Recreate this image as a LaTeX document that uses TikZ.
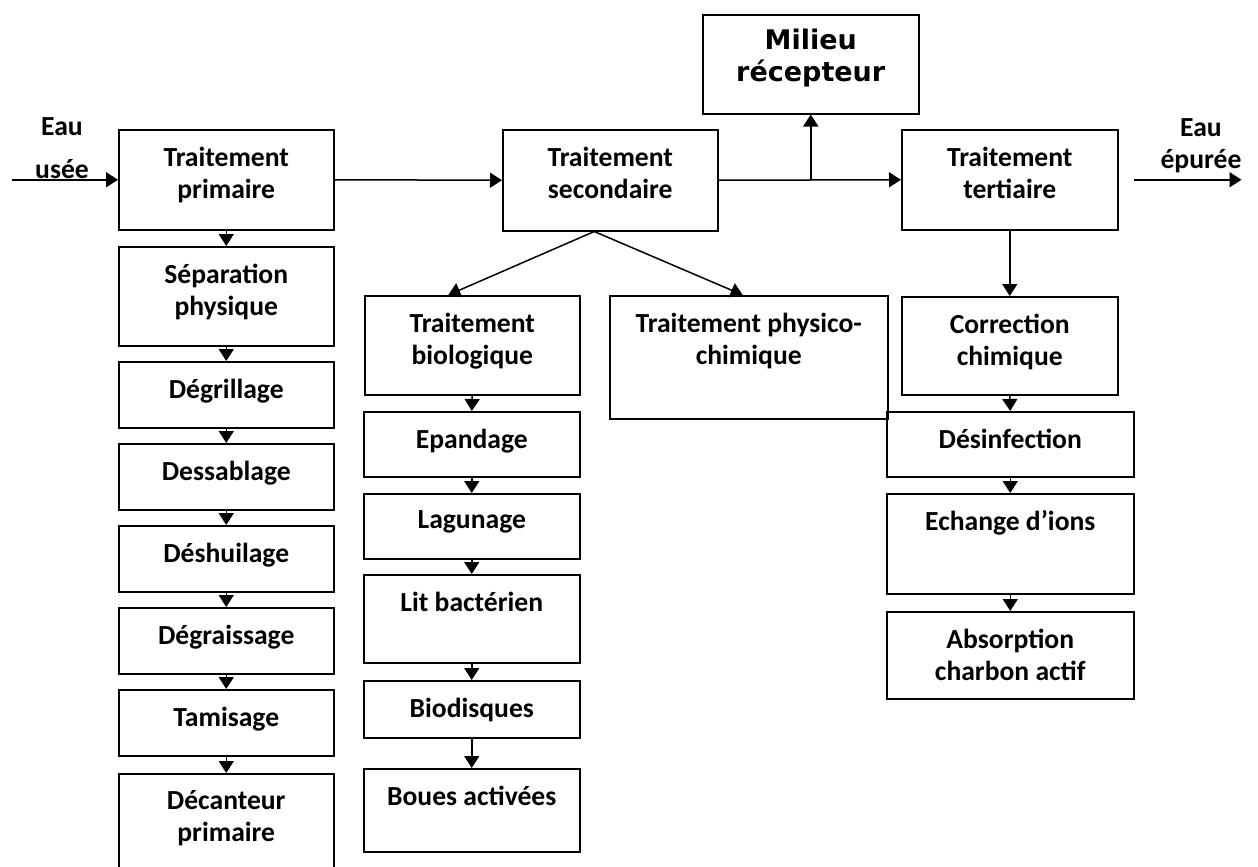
\documentclass[tikz,border=0pt]{standalone}
\usepackage{fontspec}
\newfontfamily\calibri{Carlito}
\newfontfamily\verdana{DejaVu Sans}
\usetikzlibrary{arrows.meta}

\begin{document}
\begin{tikzpicture}[
	x=0.5pt, y=-0.5pt,
	line width=0.75pt,
	>={Triangle[width=7.5pt,length=6pt]},
	box/.style 2 args={draw,anchor=north west,inner sep=0pt,minimum width=#1,minimum height=#2},
	lbl/.style={font=\calibri\bfseries\fontsize{13.8}{16}\selectfont,align=center,inner sep=0pt,anchor=north,yshift=-8.5pt},
	big/.style={font=\verdana\bfseries\fontsize{13.5}{16}\selectfont,align=center,inner sep=0pt,anchor=north,yshift=-7pt},
	side/.style={font=\calibri\bfseries\fontsize{13.8}{16}\selectfont,align=center,inner sep=0pt,anchor=north}
	]
	\clip (0,0) rectangle (1258,867);
	% main line
	\node[box={107.5pt}{50pt},label={[lbl]north:Traitement\\primaire}] (prim) at (118,129) {};
	\node[box={107.5pt}{50.5pt},label={[lbl]north:Traitement\\secondaire}] (sec) at (502,129) {};
	\node[box={108pt}{50pt},label={[lbl]north:Traitement\\tertiaire}] (tert) at (901,129) {};
	\node[box={108pt}{49.5pt},label={[big]north:Milieu\\récepteur}] (mil) at (702,14) {};
	\node[side] (usee) at (62,117) {Eau\\[5.5pt]usée};
	\node[side] (epur) at (1201,118) {Eau\\épurée};
	\coordinate (in0) at ([xshift=-53pt]prim.west);
	\coordinate (out0) at ([xshift=7.5pt]tert.east);
	\coordinate (out1) at ([xshift=61.5pt]tert.east);
	\coordinate (branch) at (sec.east -| mil.south);
	\draw[->] (in0) -- (prim.west);
	\draw[->] (prim.east) -- (sec.west);
	\draw[->] (sec.east) -- (tert.west);
	\draw[->] (branch) -- (mil.south);
	\draw[->] (out0) -- (out1);
	% primaire
	\node[box={107.5pt}{49.5pt},label={[lbl]north:Séparation\\physique}] (sep) at (118,246) {};
	\node[box={107.5pt}{33pt},label={[lbl]north:Dégrillage}] (degr) at (118,361) {};
	\node[box={107.5pt}{33pt},label={[lbl]north:Dessablage}] (dess) at (118,443) {};
	\node[box={107.5pt}{33pt},label={[lbl]north:Déshuilage}] (desh) at (118,525) {};
	\node[box={107.5pt}{33pt},label={[lbl]north:Dégraissage}] (degs) at (118,607) {};
	\node[box={107.5pt}{33pt},label={[lbl]north:Tamisage}] (tami) at (118,689) {};
	\node[box={107.5pt}{63.5pt},label={[lbl]north:Décanteur\\primaire}] (deca) at (118,773) {};
	\foreach \a/\b in {prim/sep,sep/degr,degr/dess,dess/desh,desh/degs,degs/tami,tami/deca}
		\draw[->] (\a.south) -- (\b.north);
	% secondaire
	\node[box={107.5pt}{49.5pt},label={[lbl]north:Traitement\\biologique}] (bio) at (364,295) {};
	\node[box={139pt}{61.5pt},label={[lbl]north:Traitement physico-\\chimique}] (phys) at (609,295) {};
	\node[box={108pt}{32.5pt},label={[lbl]north:Epandage}] (epan) at (363,411) {};
	\node[box={108pt}{32.5pt},label={[lbl]north:Lagunage}] (lagu) at (363,493) {};
	\node[box={108pt}{44pt},label={[lbl]north:Lit bactérien}] (lit) at (363,574) {};
	\node[box={108pt}{28.5pt},label={[lbl]north:Biodisques}] (biod) at (363,680) {};
	\node[box={108pt}{41.5pt},label={[lbl]north:Boues activées}] (boue) at (363,768) {};
	\coordinate (split) at ([xshift=-8pt]sec.south);
	\draw[->] (split) -- ([xshift=-12pt]bio.north);
	\draw[->] (split) -- ([xshift=-3pt]phys.north);
	\foreach \a/\b in {bio/epan,epan/lagu,lagu/lit,lit/biod,biod/boue}
		\draw[->] (\a.south) -- (\b.north);
	% tertiaire
	\node[box={108pt}{49pt},label={[lbl]north:Correction\\chimique}] (corr) at (901,296) {};
	\node[box={123.5pt}{32.5pt},label={[lbl]north:Désinfection}] (desi) at (886,411) {};
	\node[box={123.5pt}{50pt},label={[lbl]north:Echange d’ions}] (echg) at (886,493) {};
	\node[box={123.5pt}{43.5pt},label={[lbl]north:Absorption\\charbon actif}] (abso) at (886,611) {};
	\foreach \a/\b in {tert/corr,corr/desi,desi/echg,echg/abso}
		\draw[->] (\a.south) -- (\b.north);
\end{tikzpicture}
\end{document}
